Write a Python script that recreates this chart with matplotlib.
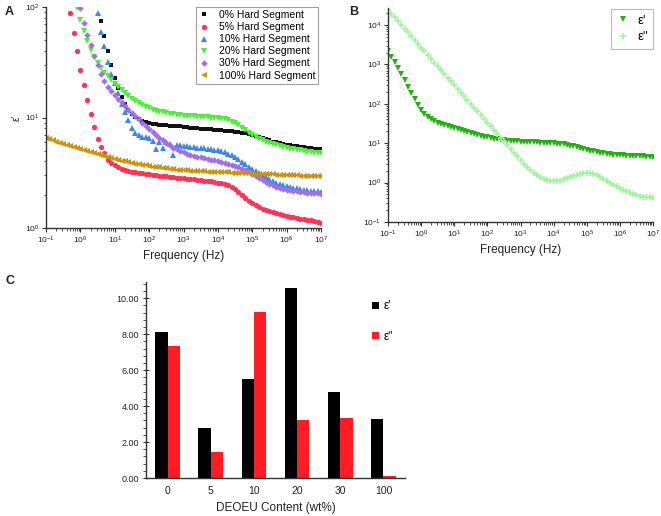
import numpy as np
import matplotlib
matplotlib.use("Agg")
import matplotlib.pyplot as plt
from matplotlib.ticker import LogLocator, MultipleLocator, NullFormatter, FormatStrFormatter

plt.rcParams['font.family'] = ['Liberation Sans', 'DejaVu Sans']
plt.rcParams['mathtext.fontset'] = 'custom'
plt.rcParams['mathtext.rm'] = 'Liberation Sans'

N = float('nan')

# ---------------- data ----------------
FREQ_HZ = [
    0.1, 0.126, 0.158, 0.2, 0.251, 0.316, 0.398, 0.501, 0.631, 0.794,
    1, 1.26, 1.58, 2.0, 2.51, 3.16, 3.98, 5.01, 6.31, 7.94,
    10, 12.6, 15.8, 20, 25.1, 31.6, 39.8, 50.1, 63.1, 79.4,
    100, 126, 158, 200, 251, 316, 398, 501, 631, 794,
    1e3, 1.26e3, 1.58e3, 2e3, 2.51e3, 3.16e3, 3.98e3, 5.01e3, 6.31e3, 7.94e3,
    1e4, 1.26e4, 1.58e4, 2e4, 2.51e4, 3.16e4, 3.98e4, 5.01e4, 6.31e4, 7.94e4,
    1e5, 1.26e5, 1.58e5, 2e5, 2.51e5, 3.16e5, 3.98e5, 5.01e5, 6.31e5, 7.94e5,
    1e6, 1.26e6, 1.58e6, 2e6, 2.51e6, 3.16e6, 3.98e6, 5.01e6, 6.31e6, 7.94e6,
    1e7,
]

HS0 = [
    N, N, N, N, N, N, N, N, N, N,
    N, N, N, N, N, N, 75, 55, 40, 30,
    23, 18.5, 15.3, 13.2, 11.8, 10.8, 10.1, 9.6, 9.3, 9.1,
    8.9, 8.8, 8.7, 8.6, 8.55, 8.5, 8.45, 8.4, 8.35, 8.3,
    8.2, 8.15, 8.1, 8.05, 8.0, 7.95, 7.9, 7.85, 7.8, 7.75,
    7.7, 7.65, 7.6, 7.55, 7.5, 7.45, 7.4, 7.3, 7.2, 7.1,
    6.95, 6.8, 6.65, 6.5, 6.35, 6.2, 6.05, 5.95, 5.85, 5.75,
    5.67, 5.6, 5.53, 5.47, 5.42, 5.37, 5.32, 5.27, 5.22, 5.18,
    5.15,
]
HS5 = [
    N, N, N, N, N, N, N, 88, 58, 40,
    27, 19.5, 14.4, 10.7, 8.2, 6.4, 5.4, 4.75, 4.15, 3.9,
    3.7, 3.55, 3.42, 3.33, 3.27, 3.22, 3.18, 3.15, 3.12, 3.1,
    3.07, 3.04, 3.01, 2.98, 2.95, 2.93, 2.9, 2.88, 2.85, 2.83,
    2.81, 2.79, 2.77, 2.75, 2.73, 2.71, 2.69, 2.67, 2.64, 2.61,
    2.58, 2.54, 2.49, 2.43, 2.35, 2.26, 2.12, 1.98, 1.86, 1.76,
    1.68, 1.61, 1.55, 1.5, 1.46, 1.42, 1.39, 1.36, 1.34, 1.31,
    1.29, 1.27, 1.25, 1.23, 1.21, 1.2, 1.18, 1.17, 1.15, 1.14,
    1.12,
]
HS10 = [
    N, N, N, N, N, N, N, N, N, N,
    N, N, N, N, N, 88, 60, 44, 32, 25,
    20.5, 16.5, 13.3, 11.1, 9.4, 8.1, 7.3, 6.9, 6.7, 6.6,
    6.5, 6.1, 5.2, 6.0, 5.3, 6.0, 5.8, 4.6, 5.6, 5.6,
    5.55, 5.5, 5.45, 5.4, 5.35, 5.3, 5.25, 5.2, 5.15, 5.1,
    5.05, 4.95, 4.85, 4.72, 4.58, 4.4, 4.2, 3.98, 3.76, 3.6,
    3.45, 3.3, 3.15, 3.0, 2.87, 2.76, 2.66, 2.58, 2.5, 2.44,
    2.39, 2.35, 2.31, 2.28, 2.25, 2.22, 2.2, 2.18, 2.16, 2.14,
    2.12,
]
HS20 = [
    N, N, N, N, N, N, N, N, N, 98,
    77, 61, 49, 41, 35.5, 31, 28, 25.5, 23.5, 21.8,
    20.3, 19, 17.8, 16.6, 15.6, 14.7, 14.0, 13.4, 12.9, 12.5,
    12.1, 11.8, 11.5, 11.3, 11.1, 10.95, 10.8, 10.7, 10.6, 10.5,
    10.4, 10.35, 10.3, 10.25, 10.2, 10.15, 10.1, 10.05, 10.0, 9.95,
    9.85, 9.75, 9.6, 9.4, 9.15, 8.85, 8.5, 8.1, 7.7, 7.3,
    6.95, 6.65, 6.4, 6.2, 6.0, 5.85, 5.7, 5.58, 5.47, 5.38,
    5.3, 5.22, 5.15, 5.09, 5.03, 4.97, 4.92, 4.87, 4.82, 4.78,
    4.74,
]
HS30 = [
    N, N, N, N, N, N, N, N, N, N,
    97, 72, 56, 45, 36, 30, 25, 21.5, 19, 17.5,
    16.0, 14.8, 13.7, 12.7, 11.8, 11.0, 10.3, 9.6, 9.0, 8.4,
    7.9, 7.4, 6.95, 6.55, 6.2, 5.9, 5.6, 5.35, 5.15, 4.98,
    4.83, 4.7, 4.6, 4.5, 4.42, 4.35, 4.28, 4.21, 4.15, 4.1,
    4.05, 3.98, 3.9, 3.82, 3.74, 3.65, 3.55, 3.45, 3.35, 3.22,
    3.1, 2.97, 2.85, 2.73, 2.62, 2.52, 2.44, 2.37, 2.31, 2.26,
    2.22, 2.19, 2.16, 2.14, 2.12, 2.1, 2.09, 2.08, 2.07, 2.06,
    2.05,
]
HS100 = [
    6.5, 6.35, 6.2, 6.05, 5.9, 5.78, 5.66, 5.55, 5.44, 5.33,
    5.22, 5.1, 4.98, 4.87, 4.76, 4.66, 4.56, 4.47, 4.38, 4.3,
    4.22, 4.14, 4.07, 4.0, 3.94, 3.88, 3.82, 3.77, 3.72, 3.68,
    3.64, 3.6, 3.56, 3.53, 3.5, 3.47, 3.44, 3.41, 3.38, 3.36,
    3.34, 3.32, 3.3, 3.28, 3.27, 3.26, 3.25, 3.24, 3.23, 3.22,
    3.21, 3.2, 3.19, 3.18, 3.17, 3.16, 3.15, 3.14, 3.13, 3.12,
    3.11, 3.1, 3.09, 3.08, 3.07, 3.06, 3.05, 3.04, 3.03, 3.02,
    3.01, 3.0, 2.995, 2.99, 2.985, 2.98, 2.975, 2.97, 2.965, 2.96,
    2.955,
]
SERIES_A = ["0% Hard Segment", "5% Hard Segment", "10% Hard Segment",
            "20% Hard Segment", "30% Hard Segment", "100% Hard Segment"]

EPS_REAL_B = [
    2200, 1560, 1130, 800, 565, 400, 270, 185, 130, 93,
    70, 56, 47, 41, 36.5, 33, 30.5, 28.5, 26.8, 25.2,
    23.8, 22.5, 21.2, 20, 18.9, 17.9, 17, 16.1, 15.3, 14.6,
    14.0, 13.5, 13.0, 12.6, 12.3, 12.0, 11.7, 11.5, 11.3, 11.1,
    11.0, 10.9, 10.8, 10.7, 10.6, 10.5, 10.4, 10.3, 10.2, 10.1,
    9.95, 9.8, 9.6, 9.35, 9.05, 8.7, 8.3, 7.9, 7.5, 7.1,
    6.75, 6.45, 6.2, 5.95, 5.75, 5.55, 5.4, 5.27, 5.15, 5.05,
    4.97, 4.9, 4.84, 4.78, 4.73, 4.68, 4.64, 4.6, 4.57, 4.54,
    4.5,
]
EPS_IMAG_B = [
    24000, 19300, 15500, 12400, 10000, 8000, 6460, 5180, 4170, 3340,
    2680, 2150, 1730, 1390, 1110, 893, 718, 576, 462, 371,
    298, 240, 192, 155, 124, 99.5, 80, 64, 51.5, 41.4,
    33, 26.7, 21.4, 17.2, 13.8, 11.1, 8.9, 7.2, 5.75, 4.6,
    3.7, 3.0, 2.5, 2.1, 1.78, 1.55, 1.36, 1.23, 1.15, 1.1,
    1.08, 1.08, 1.12, 1.2, 1.3, 1.4, 1.5, 1.6, 1.68, 1.75,
    1.78, 1.76, 1.68, 1.57, 1.42, 1.27, 1.13, 1.0, 0.89, 0.8,
    0.72, 0.66, 0.6, 0.55, 0.51, 0.48, 0.46, 0.44, 0.43, 0.42,
    0.41,
]

CONTENT = ["0", "5", "10", "20", "30", "100"]
EPS_REAL_C = [8.1, 2.8, 5.5, 10.55, 4.8, 3.27]
EPS_IMAG_C = [7.35, 1.42, 9.25, 3.2, 3.32, 0.12]

# ---------------- figure ----------------
W, H = 661, 516
fig = plt.figure(figsize=(W / 100, H / 100), dpi=100)

def rect(l, t, r, b):
    return [l / W, 1 - b / H, (r - l) / W, (b - t) / H]

AXC = '#333333'
TXT = '#222222'

def style_log(ax):
    for s in ['top', 'right']:
        ax.spines[s].set_visible(False)
    for s in ['left', 'bottom']:
        ax.spines[s].set_color(AXC)
        ax.spines[s].set_linewidth(1.0)
    ax.set_xscale('log')
    ax.set_yscale('log')
    ax.xaxis.set_major_locator(LogLocator(base=10, numticks=20))
    ax.xaxis.set_minor_locator(LogLocator(base=10, subs=np.arange(2, 10), numticks=20))
    ax.yaxis.set_major_locator(LogLocator(base=10, numticks=20))
    ax.yaxis.set_minor_locator(LogLocator(base=10, subs=np.arange(2, 10), numticks=20))
    ax.xaxis.set_minor_formatter(NullFormatter())
    ax.yaxis.set_minor_formatter(NullFormatter())
    ax.tick_params(which='major', direction='out', length=3, width=0.8, colors=AXC,
                   labelsize=6, labelcolor=TXT, pad=2)
    ax.tick_params(which='minor', direction='out', length=1.8, width=0.6, colors=AXC)
    ax.set_xlim(0.1, 1e7)
    ax.set_xlabel('Frequency (Hz)', fontsize=8.5, color=TXT, labelpad=3)

# ----- Panel A -----
axA = fig.add_axes(rect(46, 7, 321, 228))
style_log(axA)
axA.set_ylim(1, 100)
specs = [
    (HS0, 's', '#111111', 3.2),
    (HS5, 'o', '#ff3355', 3.8),
    (HS10, '^', '#3d86e6', 4.2),
    (HS20, 'v', '#4cee3a', 4.2),
    (HS30, 'D', '#a070e8', 3.3),
    (HS100, '<', '#cc9411', 4.2),
]
for (vals, m, c, ms), lab in zip(specs, SERIES_A):
    axA.plot(FREQ_HZ, vals, linestyle='none', marker=m, color=c, markersize=ms,
             markeredgewidth=0, label=lab)
legA = axA.legend(loc='upper right', bbox_to_anchor=(0.99, 1.0), borderaxespad=0,
                  fontsize=7.5, frameon=True, fancybox=False, edgecolor='#888888',
                  handlelength=1.0, handletextpad=0.9, labelspacing=0.2,
                  borderpad=0.3, markerscale=1.0)
legA.get_frame().set_linewidth(0.8)
fig.text(17 / W, 1 - 118 / H, "ε'", rotation=90, ha='center', va='center',
         fontsize=7, color=TXT)

# ----- Panel B -----
axB = fig.add_axes(rect(388, 8, 653, 222))
style_log(axB)
axB.set_ylim(0.1, 2.7e4)
axB.plot(FREQ_HZ, EPS_REAL_B, linestyle='none', marker='v', color='#22b20f',
         markersize=4.2, markeredgewidth=0, label="ε'")
axB.plot(FREQ_HZ, EPS_IMAG_B, linestyle='none', marker='+', color='#9cf59c',
         markersize=4.2, markeredgewidth=1.1, label='ε"')
legB = axB.legend(loc='upper right', bbox_to_anchor=(1.0, 0.995), borderaxespad=0,
                  fontsize=9.5, frameon=True, fancybox=False, edgecolor='#aaaaaa',
                  handlelength=1.0, handletextpad=0.6, labelspacing=0.35,
                  borderpad=0.4)
legB.get_frame().set_linewidth(0.8)

# ----- Panel C -----
axC = fig.add_axes(rect(146, 282, 405, 478))
x = np.arange(len(CONTENT))
bw = 0.285
axC.bar(x - bw / 2, EPS_REAL_C, width=bw, color='#000000', label="ε'")
axC.bar(x + bw / 2, EPS_IMAG_C, width=bw, color='#ff1c24', label='ε"')
axC.set_xlim(-0.5, 5.5)
axC.set_ylim(0, 10.9)
axC.set_xticks(x)
axC.set_xticklabels(CONTENT)
axC.yaxis.set_major_locator(MultipleLocator(2))
axC.yaxis.set_minor_locator(MultipleLocator(0.4))
axC.yaxis.set_major_formatter(FormatStrFormatter('%.2f'))
for s in ['top', 'right']:
    axC.spines[s].set_visible(False)
for s in ['left', 'bottom']:
    axC.spines[s].set_color(AXC)
    axC.spines[s].set_linewidth(1.0)
axC.tick_params(axis='y', which='major', direction='inout', length=4, width=0.8,
                colors=AXC, labelsize=6.5, labelcolor=TXT, pad=3)
axC.tick_params(axis='y', which='minor', direction='out', length=2, width=0.6, colors=AXC)
axC.tick_params(axis='x', which='major', length=0, labelsize=7.5, labelcolor=TXT, pad=6)
axC.set_xlabel('DEOEU Content (wt%)', fontsize=8.5, color=TXT, labelpad=4)
legC = axC.legend(loc='upper left', bbox_to_anchor=(0.855, 0.93), frameon=False,
                  fontsize=8.5, handlelength=0.6, handleheight=0.6, handletextpad=0.4,
                  labelspacing=1.55, borderaxespad=0)

# panel letters
fig.text(5 / W, 1 - 12 / H, 'A', fontsize=9, fontweight='bold', va='center', color=TXT)
fig.text(349 / W, 1 - 12 / H, 'B', fontsize=9, fontweight='bold', va='center', color=TXT)
fig.text(5 / W, 1 - 281 / H, 'C', fontsize=9, fontweight='bold', va='center', color=TXT)

fig.savefig('out.png', dpi=100)
